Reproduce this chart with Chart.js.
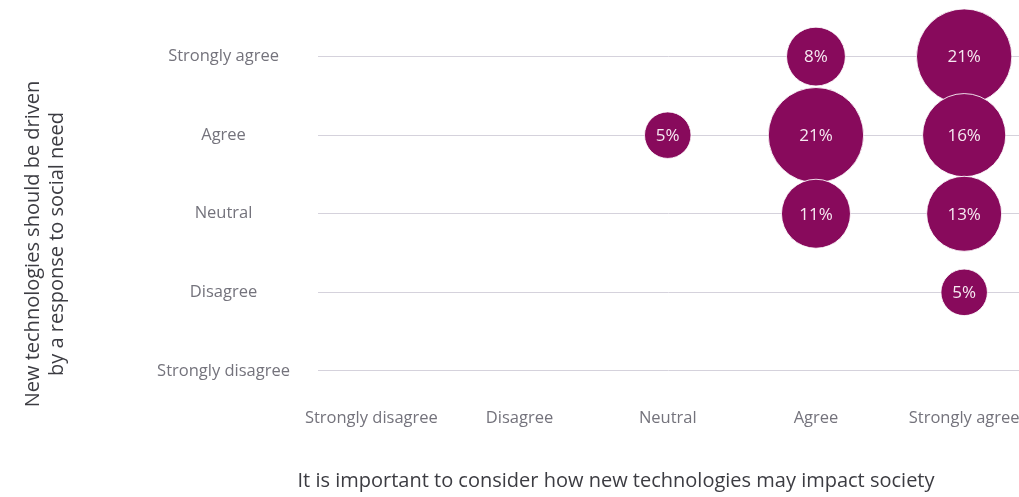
<!DOCTYPE html>
<html>
<head>
<meta charset="utf-8">
<script src="https://cdn.jsdelivr.net/npm/chart.js@4.4.1/dist/chart.umd.min.js"></script>
<style>
  body { margin: 0; background: #fff; }
  #bubbles { display: block; }
</style>
</head>
<body>
<canvas id="bubbles" width="1019" height="497"></canvas>
<script>
const answers = ["Strongly disagree", "Disagree", "Neutral", "Agree", "Strongly agree"];

// one entry per bubble: column (impact on society), row (social need), share in %
const impactIdx = [3, 4, 2, 3, 4, 3, 4, 4];
const needIdx = [4, 4, 3, 3, 3, 2, 2, 1];
const shares = [8, 21, 5, 21, 16, 11, 13, 5];

const xTitle = "It is important to consider how new technologies may impact society";
const yTitle = ["New technologies should be driven", "by a response to social need"];

const purple = "#880a5c";
const tickGray = "#74737c";
const titleGray = "#3c3c42";

const points = shares.map((v, i) => ({ x: impactIdx[i], y: needIdx[i], v: v }));

// bubbles are allowed to overflow the plot area, so don't reserve room for them
class FlatBubble extends Chart.BubbleController {
  getMaxOverflow() {
    return false;
  }
}
FlatBubble.id = "flatBubble";
Chart.register(FlatBubble);

// percentages written inside each bubble
const bubbleText = {
  id: "bubbleText",
  afterDatasetsDraw(chart) {
    const ctx = chart.ctx;
    const meta = chart.getDatasetMeta(0);
    ctx.save();
    ctx.fillStyle = "#f6e9f1";
    ctx.font = "17px 'Open Sans'";
    ctx.textAlign = "center";
    ctx.textBaseline = "middle";
    meta.data.forEach((el, i) => {
      ctx.fillText(shares[i] + "%", el.x, el.y + 1);
    });
    ctx.restore();
  }
};

// axis titles
const axisTitles = {
  id: "axisTitles",
  afterDraw(chart) {
    const ctx = chart.ctx;
    ctx.save();
    ctx.fillStyle = titleGray;
    ctx.font = "20px 'Open Sans'";
    ctx.textAlign = "center";
    ctx.textBaseline = "middle";
    ctx.fillText(xTitle, 616, 481);
    ctx.translate(33, 244);
    ctx.rotate(-Math.PI / 2);
    ctx.fillText(yTitle[0], 0, 0);
    ctx.fillText(yTitle[1], 0, 24);
    ctx.restore();
  }
};

const fixedTicks = (scale) => {
  scale.ticks = answers.map((a, i) => ({ value: i }));
};

new Chart(document.getElementById("bubbles"), {
  type: "flatBubble",
  data: {
    datasets: [{
      data: points,
      backgroundColor: purple,
      borderColor: "rgba(255,255,255,0.85)",
      borderWidth: 1,
      hoverBackgroundColor: purple,
      radius: (c) => 10.4 * Math.sqrt(c.raw.v),
      clip: false
    }]
  },
  options: {
    responsive: false,
    animation: false,
    layout: { padding: 0 },
    plugins: {
      legend: { display: false },
      tooltip: { enabled: false }
    },
    scales: {
      x: {
        type: "linear",
        min: -0.36,
        max: 4.37,
        afterBuildTicks: fixedTicks,
        afterFit: (scale) => {
          scale.height = 102.5;
          scale.paddingLeft = 0;
          scale.paddingRight = 0;
        },
        grid: { display: false, drawTicks: false },
        border: { display: false },
        ticks: {
          padding: 14,
          color: tickGray,
          font: { family: "'Open Sans'", size: 16.5 },
          callback: (v) => answers[v]
        }
      },
      y: {
        type: "linear",
        min: -0.3,
        max: 4.72,
        afterBuildTicks: fixedTicks,
        afterFit: (scale) => {
          scale.width = 318;
          scale.paddingTop = 0;
          scale.paddingBottom = 0;
        },
        grid: { color: "#d5d2dc", lineWidth: 1, drawTicks: false },
        border: { display: false },
        ticks: {
          padding: 28,
          crossAlign: "center",
          color: tickGray,
          font: { family: "'Open Sans'", size: 16.5 },
          callback: (v) => answers[v]
        }
      }
    }
  },
  plugins: [bubbleText, axisTitles]
});
</script>
</body>
</html>
